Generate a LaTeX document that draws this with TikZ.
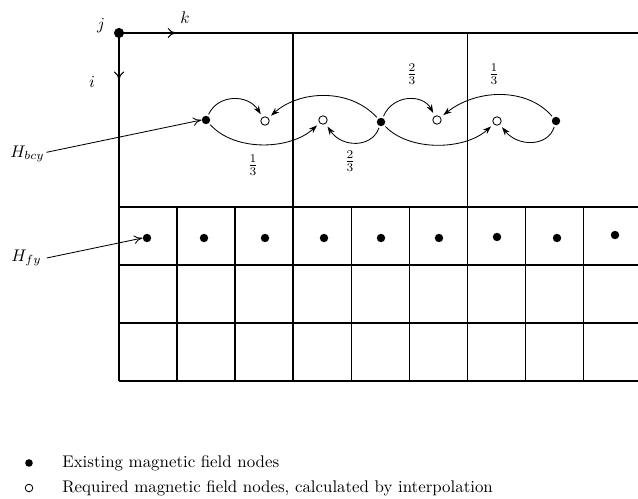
\documentclass[tikz,border=0pt]{standalone}
\usetikzlibrary{arrows.meta,decorations.markings}
\begin{document}
\begin{tikzpicture}[x=0.593pt,y=-0.593pt,
  grid/.style={line width=0.6pt},
  fdot/.style={circle,fill=black,inner sep=0pt,minimum size=5pt},
  odot/.style={circle,draw=black,line width=0.5pt,fill=white,inner sep=0pt,minimum size=5pt},
  curvarr/.style={line width=0.5pt,-{Stealth[length=5pt,width=3.5pt]},shorten >=2pt,shorten <=1pt},
  labarr/.style={line width=0.5pt,-{To[length=5pt,width=5pt]}},
  midarr/.style={postaction={decorate},decoration={markings,mark=at position #1 with {\arrow{To[length=5pt,width=6pt]}}}},
  frac/.style={inner sep=1pt}]
\useasboundingbox (0,0) rectangle (638,499);
% axes and frame
\node[fdot,minimum size=6pt] (j) at (119,33) {};
\coordinate (tr) at (638,33);
\coordinate (bl) at (119,381);
\draw[grid,midarr=0.11] (j.center) -- (tr);
\draw[grid,midarr=0.135] (j.center) -- (bl);
\node at (101,26) {$j$};
\node at (185,18) {$k$};
\node at (92,82) {$i$};
% coarse cell lines
\draw[grid] (293,33) -- (293,207);
\draw[grid] (467,33) -- (467,207);
% fine grid
\foreach \y in {207,265,323,381} \draw[grid] (119,\y) -- (638,\y);
\foreach \x in {177,235,293,351,409,467,525,583} \draw[grid] (\x,207) -- (\x,381);
% fine grid dots
\node[fdot] (f1) at (147,238) {};
\node[fdot] (f2) at (204,238) {};
\node[fdot] (f3) at (265,238) {};
\node[fdot] (f4) at (324,238) {};
\node[fdot] (f5) at (381,238) {};
\node[fdot] (f6) at (439,238) {};
\node[fdot] (f7) at (497,237) {};
\node[fdot] (f8) at (557,238) {};
\node[fdot] (f9) at (615,235) {};
% coarse nodes
\node[fdot] (a1) at (206,120) {};
\node[fdot] (a2) at (381,122) {};
\node[fdot] (a3) at (556,121) {};
\node[odot] (b1) at (265,121) {};
\node[odot] (b2) at (323,120) {};
\node[odot] (b3) at (437,120) {};
\node[odot] (b4) at (497,121) {};
% interpolation arrows
\draw[curvarr] (a1) .. controls (218,94) and (248,94) .. (b1);
\draw[curvarr] (a2) .. controls (350,88) and (300,90) .. (b1);
\draw[curvarr] (a1) .. controls (235,152) and (290,150) .. (b2);
\draw[curvarr] (a2) .. controls (372,148) and (342,148) .. (b2);
\draw[curvarr] (a2) .. controls (393,94) and (423,94) .. (b3);
\draw[curvarr] (a3) .. controls (528,88) and (478,88) .. (b3);
\draw[curvarr] (a2) .. controls (410,152) and (465,150) .. (b4);
\draw[curvarr] (a3) .. controls (548,147) and (518,147) .. (b4);
% fractions
\node[frac] (q1) at (253,165) {$\frac{1}{3}$};
\node[frac] (q2) at (350,161) {$\frac{2}{3}$};
\node[frac] (q3) at (412,74) {$\frac{2}{3}$};
\node[frac] (q4) at (494,74) {$\frac{1}{3}$};
% labels
\node[anchor=west,inner sep=0pt] (hb) at (10,154) {$H_{bcy}$};
\node[anchor=west,inner sep=0pt] (hf) at (11,258) {$H_{fy}$};
\draw[labarr] (hb.east) ++(1pt,1pt) coordinate (hbs) -- (a1.west);
\draw[labarr] (hf.east) ++(3pt,0pt) coordinate (hfs) -- (f1.west);
% legend
\node[fdot,minimum size=4.5pt] (l1) at (29,463) {};
\node[odot,minimum size=4.5pt] (l2) at (29,488) {};
\node[anchor=west,inner sep=0pt] (t1) at (62,463) {Existing magnetic field nodes};
\node[anchor=west,inner sep=0pt] (t2) at (62,488) {Required magnetic field nodes, calculated by interpolation};
\end{tikzpicture}
\end{document}
